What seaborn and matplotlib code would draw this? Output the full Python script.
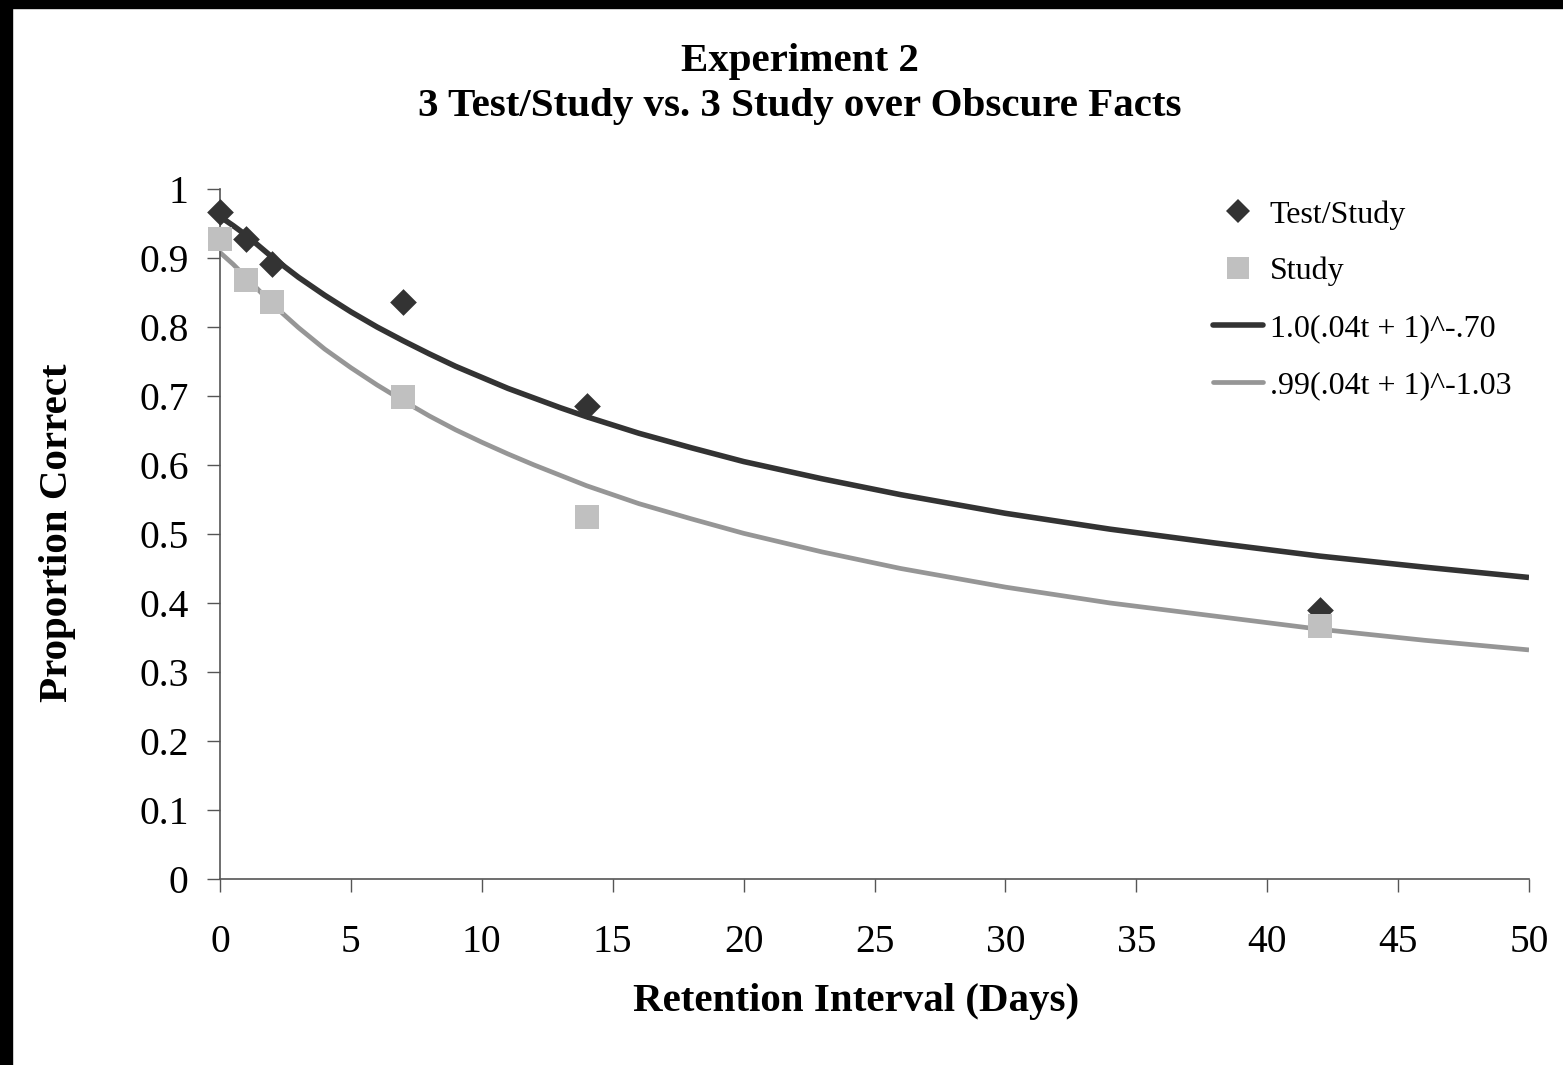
import matplotlib
matplotlib.use("Agg")
import matplotlib.pyplot as plt
from matplotlib.lines import Line2D
from matplotlib.patches import Rectangle
import pandas as pd
import seaborn as sns

# ---- data ----
days = [0, 1, 2, 7, 14, 42]
test_study = [0.966, 0.927, 0.891, 0.836, 0.685, 0.390]
study = [0.927, 0.868, 0.836, 0.699, 0.524, 0.366]

curve_t = [0, 0.5, 1, 2, 3, 4, 5, 6, 7, 8, 9, 10, 11, 12, 13, 14, 16, 18, 20,
           23, 26, 30, 34, 38, 42, 46, 50]
fit_test_study = [0.960, 0.947, 0.933, 0.901, 0.872, 0.846, 0.822, 0.800,
                  0.780, 0.761, 0.743, 0.727, 0.711, 0.697, 0.683, 0.670,
                  0.646, 0.625, 0.605, 0.580, 0.557, 0.530, 0.507, 0.487,
                  0.468, 0.452, 0.437]
fit_study = [0.908, 0.891, 0.872, 0.833, 0.799, 0.768, 0.741, 0.716, 0.693,
             0.671, 0.651, 0.633, 0.616, 0.600, 0.585, 0.570, 0.544, 0.522,
             0.501, 0.474, 0.450, 0.423, 0.400, 0.381, 0.362, 0.346, 0.332]

labels = ["Test/Study", "Study", "1.0(.04t + 1)^-.70", ".99(.04t + 1)^-1.03"]
x_ticks = [0, 5, 10, 15, 20, 25, 30, 35, 40, 45, 50]
y_ticks = [0, 0.1, 0.2, 0.3, 0.4, 0.5, 0.6, 0.7, 0.8, 0.9, 1]
y_tick_labels = ["0", "0.1", "0.2", "0.3", "0.4", "0.5", "0.6", "0.7", "0.8", "0.9", "1"]

DARK = "#333333"
LIGHT = "#c0c0c0"
MID = "#969696"
AXC = "#555555"

sns.set_style("white")
plt.rcParams["font.family"] = ["Liberation Serif", "DejaVu Serif"]
plt.rcParams["text.color"] = "black"

W, H = 1563, 1065
fig = plt.figure(figsize=(W / 100, H / 100), dpi=100)
ax = fig.add_axes([220 / W, 1 - 879 / H, (1529 - 220) / W, (879 - 189) / H])

pts = pd.DataFrame({"t": days, "ts": test_study, "st": study})
fits = pd.DataFrame({"t": curve_t, "ts": fit_test_study, "st": fit_study})

LW_DARK, LW_MID = 4.0, 3.4
sns.lineplot(data=fits, x="t", y="ts", ax=ax, color=DARK, lw=LW_DARK, zorder=2,
             solid_capstyle="butt")
sns.lineplot(data=fits, x="t", y="st", ax=ax, color=MID, lw=LW_MID, zorder=2,
             solid_capstyle="butt")
sns.scatterplot(data=pts, x="t", y="ts", ax=ax, marker="D", s=185, color=DARK,
                linewidth=0, zorder=3, clip_on=False)
sns.scatterplot(data=pts, x="t", y="st", ax=ax, marker="s", s=300, color=LIGHT,
                linewidth=0, zorder=4, clip_on=False)

ax.set_xlim(0, 50)
ax.set_ylim(0, 1)
ax.set_xticks(x_ticks)
ax.set_xticklabels([str(v) for v in x_ticks])
ax.set_yticks(y_ticks)
ax.set_yticklabels(y_tick_labels)
ax.set_xlabel("")
ax.set_ylabel("")
for s in ["top", "right"]:
    ax.spines[s].set_visible(False)
for s in ["left", "bottom"]:
    ax.spines[s].set_color(AXC)
    ax.spines[s].set_linewidth(1.2)
ax.tick_params(axis="both", which="major", bottom=True, left=True,
               direction="out", length=9.5, width=1.0, color=AXC,
               labelsize=28.5, labelcolor="black")
ax.tick_params(axis="x", pad=23)
ax.tick_params(axis="y", pad=13)
ax.set_facecolor("white")

handles = [
    Line2D([], [], marker="D", color=DARK, ls="none", markersize=12, markeredgewidth=0),
    Line2D([], [], marker="s", color=LIGHT, ls="none", markersize=16, markeredgewidth=0),
    Line2D([], [], color=DARK, lw=LW_DARK),
    Line2D([], [], color=MID, lw=LW_MID),
]
leg = fig.legend(handles, labels, loc="upper left",
                 bbox_to_anchor=(1213 / W, 1 - 200 / H), bbox_transform=fig.transFigure,
                 frameon=False, fontsize=23, handlelength=1.55, handletextpad=0.22,
                 labelspacing=0.86, borderpad=0, borderaxespad=0)
for t in leg.get_texts():
    t.set_color("black")

BOLD = 29.5
fig.text(800 / W, 1 - 61 / H, "Experiment 2", ha="center", va="center",
         fontsize=BOLD, fontweight="bold", color="black")
fig.text(800 / W, 1 - 107 / H, "3 Test/Study vs. 3 Study over Obscure Facts",
         ha="center", va="center", fontsize=BOLD, fontweight="bold", color="black")
fig.text(856 / W, 1 - 1001 / H, "Retention Interval (Days)", ha="center",
         va="center", fontsize=BOLD, fontweight="bold", color="black")
fig.text(58 / W, 1 - 533 / H, "Proportion Correct", ha="center", va="center",
         rotation=90, fontsize=BOLD, fontweight="bold", color="black")

# black frame strips at left and top edges
fig.patches.append(Rectangle((0, 0), 12 / W, 1, transform=fig.transFigure,
                             color="black", zorder=10))
fig.patches.append(Rectangle((0, 1 - 8 / H), 1, 8 / H, transform=fig.transFigure,
                             color="black", zorder=10))

fig.savefig("out.png", dpi=100, facecolor="white")
